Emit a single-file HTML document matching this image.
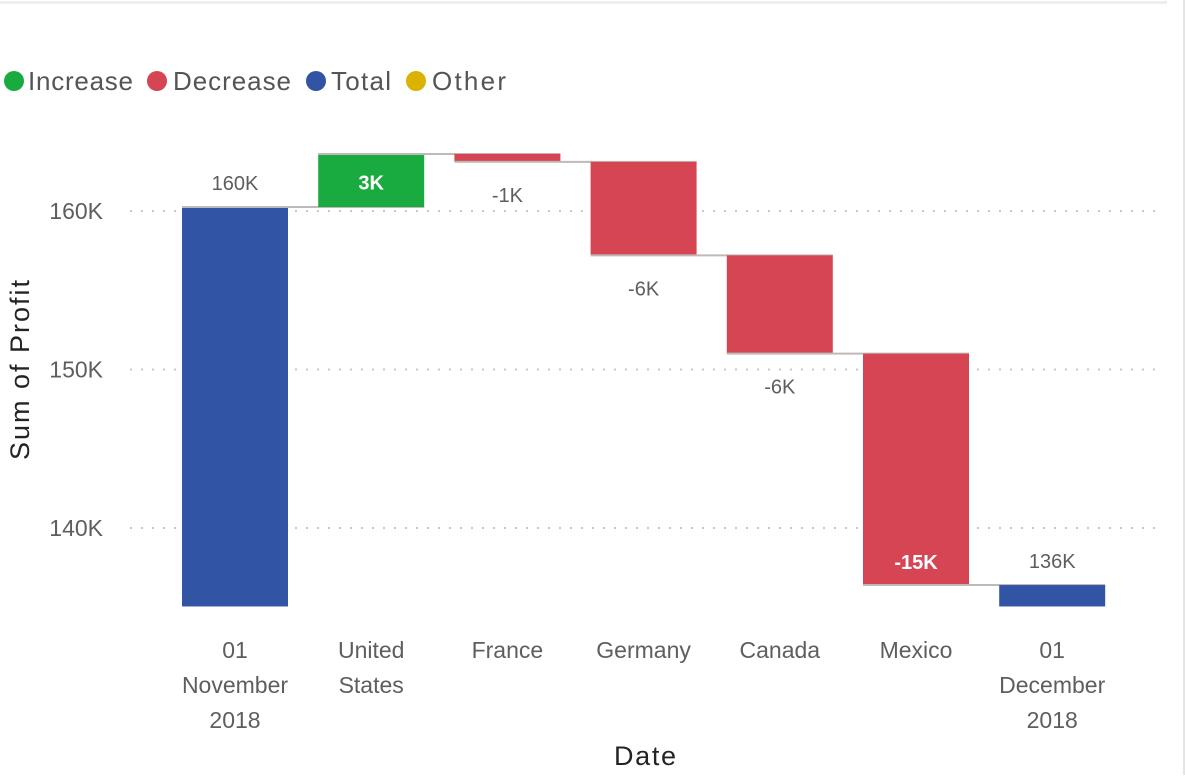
<!DOCTYPE html>
<html><head><meta charset="utf-8"><style>
body{margin:0;background:#fff;width:1185px;height:775px;overflow:hidden;font-family:"Segoe UI","Liberation Sans",sans-serif}
svg text{font-family:"Liberation Sans",sans-serif}
</style></head><body>
<svg id="c" width="1185" height="775">
<rect x="0" y="1" width="1167" height="3" fill="#eeeeee"/>
<rect x="1183" y="0" width="2" height="775" fill="#e4e4e4"/>
<g>
<circle cx="14" cy="81" r="10" fill="#1aab40"/>
<text x="28" y="90" font-size="26" textLength="105" fill="#555">Increase</text>
<circle cx="157" cy="81" r="10" fill="#d64554"/>
<text x="173" y="90" font-size="26" textLength="118" fill="#555">Decrease</text>
<circle cx="316" cy="81" r="10" fill="#3155a4"/>
<text x="331" y="90" font-size="26" textLength="60" fill="#555">Total</text>
<circle cx="416" cy="81" r="10" fill="#d9b300"/>
<text x="432" y="90" font-size="26" textLength="74" fill="#555">Other</text>
</g>
<text transform="translate(29,370) rotate(-90)" text-anchor="middle" font-size="27" textLength="180" fill="#252423">Sum of Profit</text>
<text x="645" y="765" text-anchor="middle" font-size="27" textLength="62" fill="#252423">Date</text>
<g id="g"></g>
</svg>
<script>
const categories=[["01","November","2018"],["United","States"],["France"],["Germany"],["Canada"],["Mexico"],["01","December","2018"]];
const kinds=["total","inc","dec","dec","dec","dec","total"];
const deltas=[160.25,3.35,-0.5,-5.9,-6.2,-14.6,0];
const labels=["160K","3K","-1K","-6K","-6K","-15K","136K"];
const yTicks=[140,150,160];
const yTickLabels=["140K","150K","160K"];
const colors={total:"#3155a4",inc:"#1aab40",dec:"#d64554"};
const NS="http://www.w3.org/2000/svg";
const g=document.getElementById("g");
function y(v){return 211+(160-v)*15.85;}
function x(i){return 182+i*136.2;}
const BW=106,base=135.05;
function el(t,a){const e=document.createElementNS(NS,t);for(const k in a)e.setAttribute(k,a[k]);g.appendChild(e);return e;}
yTicks.forEach((t,i)=>{
 const l=el("line",{x1:130,x2:1160,y1:y(t),y2:y(t),stroke:"#c8c8c8","stroke-width":2,"stroke-dasharray":"2,9"});
 
 
 const tx=el("text",{x:103,y:y(t)+8,"text-anchor":"end","font-size":23,fill:"#605e5c"});
 tx.textContent=yTickLabels[i];
 
 
});
let run=0;
deltas.forEach((d,i)=>{
 let lo,hi,end;
 if(kinds[i]==="total"){ lo=base;hi=i===0?d:run;run=hi;end=hi;}
 else{const s=run;run=s+d;lo=Math.min(s,run);hi=Math.max(s,run);end=run;}
 const r=el("rect",{x:x(i),y:y(hi),width:BW,height:y(lo)-y(hi),fill:colors[kinds[i]]});
 
 
 if(i<deltas.length-1){
  const c=el("line",{x1:x(i),x2:x(i+1)+BW,y1:y(end),y2:y(end),stroke:"#bfbab5","stroke-width":2});
  
  
 }
 const cx=x(i)+BW/2;
 let ly,fill="#605e5c",fw="normal";
 const hpx=y(lo)-y(hi);
 if(kinds[i]==="total"){ly=y(hi)-17;}
 else if(kinds[i]==="inc" && hpx>30){ly=y(hi)+hpx/2+9;fill="#fff";fw="bold";}
 else if(kinds[i]==="dec" && hpx>150){ly=y(lo)-16;fill="#fff";fw="bold";}
 else {ly=y(lo)+40;}
 const t=el("text",{x:cx,y:ly,"text-anchor":"middle","font-size":20,fill:fill,"font-weight":fw});
 t.textContent=labels[i];
 
 
 categories[i].forEach((ln,j)=>{
  const ct=el("text",{x:cx,y:658+j*35,"text-anchor":"middle","font-size":23,fill:"#605e5c"});
  ct.textContent=ln;
  
  
 });
});
</script>
</body></html>
